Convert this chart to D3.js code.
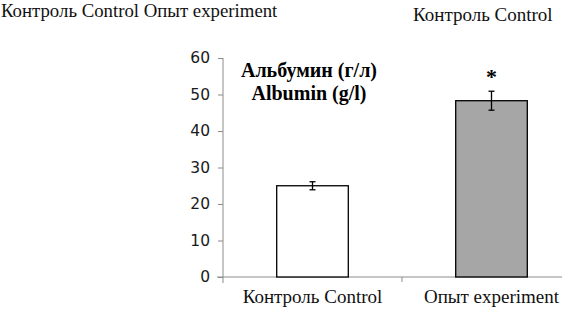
<!DOCTYPE html>
<html>
<head>
<meta charset="utf-8">
<script src="https://cdn.jsdelivr.net/npm/d3@7"></script>
<style>
  body { margin: 0; background: #fff; }
</style>
</head>
<body>
<div id="chart"></div>
<script>
// data
const groups   = ['Контроль Control', 'Опыт experiment'];
const values   = [25, 48.3];
const errors   = [1.1, 2.6];
const fills    = ['#ffffff', '#a6a6a6'];
const signif   = ['', '*'];
const yTicks   = [0, 10, 20, 30, 40, 50, 60];
const titleLines = ['Альбумин (г/л)', 'Albumin (g/l)'];

const width = 562, height = 311;
const serif = '"Liberation Serif"';

const svg = d3.select('#chart')
    .append('svg')
      .attr('width', width)
      .attr('height', height)
      .attr('font-family', serif);

const x = d3.scaleBand()
    .domain(groups)
    .range([223, 581])
    .paddingInner(0)
    .paddingOuter(0);

const y = d3.scaleLinear()
    .domain([0, 60])
    .range([277, 58]);

const barW = x.bandwidth() * 0.4;

// y axis
const yAxis = svg.append('g')
    .attr('transform', 'translate(223,0)')
    .call(d3.axisLeft(y).tickValues(yTicks).tickSize(5).tickPadding(8));
yAxis.select('.domain').remove();
yAxis.selectAll('line').attr('stroke', '#8c8c8c');
yAxis.selectAll('text')
    .attr('fill', '#1a1a1a')
    .attr('font-size', 15.5)
    .attr('font-family', '"DejaVu Sans"');
svg.append('line')
    .attr('x1', 223).attr('x2', 223)
    .attr('y1', y(60)).attr('y2', y(0) + 6)
    .attr('stroke', '#8c8c8c');

// x axis
svg.append('line')
    .attr('x1', 217).attr('x2', width)
    .attr('y1', y(0)).attr('y2', y(0))
    .attr('stroke', '#8c8c8c');
svg.append('line')
    .attr('x1', x(groups[1])).attr('x2', x(groups[1]))
    .attr('y1', y(0)).attr('y2', y(0) + 5)
    .attr('stroke', '#8c8c8c');

svg.selectAll('.xlab')
    .data(groups)
    .enter()
    .append('text')
      .attr('class', 'xlab')
      .attr('x', d => x(d) + x.bandwidth() / 2)
      .attr('y', 303)
      .attr('text-anchor', 'middle')
      .attr('font-size', 19)
      .attr('fill', '#111')
      .text(d => d);

// bars
svg.selectAll('.bar')
    .data(values)
    .enter()
    .append('rect')
      .attr('class', 'bar')
      .attr('x', (d, i) => x(groups[i]) + x.bandwidth() / 2 - barW / 2)
      .attr('y', d => y(d))
      .attr('width', barW)
      .attr('height', d => y(0) - y(d))
      .attr('fill', (d, i) => fills[i])
      .attr('stroke', '#000')
      .attr('stroke-width', 1.3);

// error bars
const eb = svg.selectAll('.err')
    .data(values)
    .enter()
    .append('g')
      .attr('class', 'err')
      .attr('transform', (d, i) => `translate(${x(groups[i]) + x.bandwidth() / 2},0)`);
eb.append('line')
    .attr('y1', (d, i) => y(d + errors[i]))
    .attr('y2', (d, i) => y(d - errors[i]))
    .attr('stroke', '#000').attr('stroke-width', 1.3);
eb.append('line')
    .attr('x1', -3).attr('x2', 3)
    .attr('y1', (d, i) => y(d + errors[i]))
    .attr('y2', (d, i) => y(d + errors[i]))
    .attr('stroke', '#000').attr('stroke-width', 1.3);
eb.append('line')
    .attr('x1', -3).attr('x2', 3)
    .attr('y1', (d, i) => y(d - errors[i]))
    .attr('y2', (d, i) => y(d - errors[i]))
    .attr('stroke', '#000').attr('stroke-width', 1.3);
eb.append('text')
    .attr('y', (d, i) => y(d + errors[i]) - 7)
    .attr('text-anchor', 'middle')
    .attr('font-size', 22)
    .attr('font-weight', 'bold')
    .text((d, i) => signif[i]);

// title
svg.selectAll('.title')
    .data(titleLines)
    .enter()
    .append('text')
      .attr('class', 'title')
      .attr('x', 309)
      .attr('y', (d, i) => 77 + i * 23)
      .attr('text-anchor', 'middle')
      .attr('font-size', 20)
      .attr('font-weight', 'bold')
      .text(d => d);

// stray legend text at the top
svg.append('text')
    .attr('x', 1).attr('y', 17)
    .attr('font-size', 18.8)
    .attr('fill', '#111')
    .text(groups.join(' '));
svg.append('text')
    .attr('x', 413).attr('y', 21)
    .attr('font-size', 19)
    .attr('fill', '#111')
    .text(groups[0]);
</script>
</body>
</html>
